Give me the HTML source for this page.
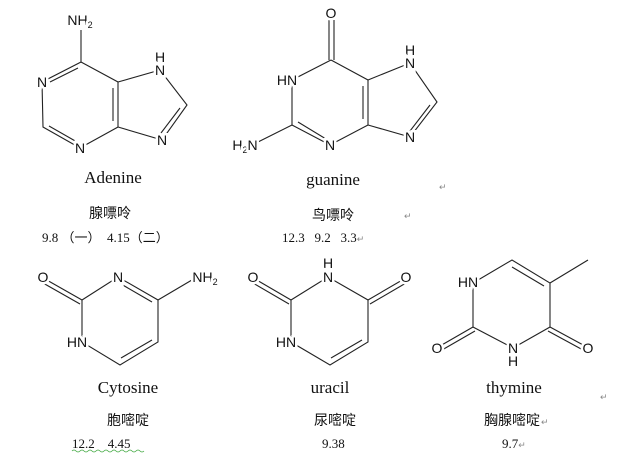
<!DOCTYPE html>
<html><head><meta charset="utf-8"><style>
html,body{margin:0;padding:0;background:#fff;}
svg{display:block;}
.b{stroke:#222;stroke-width:1.1;fill:none;}
.a{font-family:"Liberation Sans",sans-serif;font-size:14px;fill:#111;text-anchor:middle;stroke:#fff;stroke-width:5;paint-order:stroke;}
.s{font-size:9px;}
.n{font-family:"Liberation Serif",serif;font-size:17px;fill:#111;text-anchor:middle;}
.c{font-family:"Liberation Sans","Noto Sans CJK SC",sans-serif;font-size:14px;fill:#111;text-anchor:middle;}
.v{font-family:"Liberation Serif","Noto Sans CJK SC",serif;font-size:13px;fill:#111;white-space:pre;}
.r{font-family:"Liberation Sans",sans-serif;font-size:9px;fill:#888;}
</style></head><body>
<svg width="620" height="471" viewBox="0 0 620 471">
<!-- Adenine -->
<g class="b">
<path d="M81 30 L81 62 L42 82 L43 127 L80 148 L118 127 L118 82 L81 62"/>
<path d="M118 82 L160 70 L187 105 L162 140 L118 127"/>
<path d="M50 82 L78 68"/>
<path d="M49 126 L77 142"/>
<path d="M113 88 L113 121"/>
<path d="M180 108 L161 133"/>
</g>
<text class="a" x="80" y="25">NH<tspan class="s" dy="3">2</tspan></text>
<text class="a" x="42" y="87">N</text>
<text class="a" x="80" y="153">N</text>
<text class="a" x="160" y="62">H</text>
<text class="a" x="160" y="75">N</text>
<text class="a" x="162" y="145">N</text>
<text class="n" x="113" y="183">Adenine</text>
<text class="c" x="110" y="218">腺嘌呤</text>
<text class="v" x="42" y="242" xml:space="preserve">9.8 （一）  4.15（二）</text>

<!-- Guanine -->
<g class="b">
<path d="M329 20 L329 60 M334 20 L334 60"/>
<path d="M331 60 L292 80 L292 125 L330 145 L368 125 L368 80 L331 60"/>
<path d="M292 125 L252 145"/>
<path d="M368 80 L410 63 L437 102 L410 137 L368 125"/>
<path d="M298 122 L326 139"/>
<path d="M363 86 L363 119"/>
<path d="M430 105 L410 131"/>
</g>
<text class="a" x="331" y="18">O</text>
<text class="a" x="287" y="85">HN</text>
<text class="a" x="245" y="150">H<tspan class="s" dy="3">2</tspan><tspan dy="-3">N</tspan></text>
<text class="a" x="330" y="150">N</text>
<text class="a" x="410" y="55">H</text>
<text class="a" x="410" y="68">N</text>
<text class="a" x="410" y="142">N</text>
<text class="n" x="333" y="185">guanine</text>
<text class="r" x="439" y="190">↵</text>
<text class="c" x="333" y="220">鸟嘌呤</text>
<text class="r" x="404" y="219">↵</text>
<text class="v" x="282" y="242" xml:space="preserve">12.3   9.2   3.3<tspan class="r">↵</tspan></text>

<!-- Cytosine -->
<g class="b">
<path d="M82 300 L118 277 L158 300 L158 342 L120 365 L82 342 Z"/>
<path d="M82 300 L45 279 M80 304 L43 283"/>
<path d="M158 300 L197 277"/>
<path d="M121 284 L152 302"/>
<path d="M152 340 L121 358"/>
</g>
<text class="a" x="43" y="282">O</text>
<text class="a" x="118" y="282">N</text>
<text class="a" x="205" y="282">NH<tspan class="s" dy="3">2</tspan></text>
<text class="a" x="77" y="347">HN</text>
<text class="n" x="128" y="393">Cytosine</text>
<text class="c" x="128" y="425">胞嘧啶</text>
<text class="v" x="72" y="448" xml:space="preserve">12.2    4.45</text>
<path d="M72 451 q2 -2 4 0 t4 0 t4 0 t4 0 t4 0 t4 0 t4 0 t4 0 t4 0 t4 0 t4 0 t4 0 t4 0 t4 0 t4 0 t4 0 t4 0 t4 0" stroke="#4a4" fill="none" stroke-width="0.8"/>

<!-- Uracil -->
<g class="b">
<path d="M291 300 L328 277 L368 300 L368 342 L330 365 L291 342 Z"/>
<path d="M291 300 L255 279 M289 304 L253 283"/>
<path d="M368 300 L404 279 M370 304 L406 283"/>
<path d="M362 340 L331 358"/>
</g>
<text class="a" x="253" y="282">O</text>
<text class="a" x="328" y="268">H</text>
<text class="a" x="328" y="282">N</text>
<text class="a" x="406" y="282">O</text>
<text class="a" x="286" y="347">HN</text>
<text class="n" x="330" y="393">uracil</text>
<text class="c" x="335" y="425">尿嘧啶</text>
<text class="v" x="322" y="448">9.38</text>

<!-- Thymine -->
<g class="b">
<path d="M473 283 L512 260 L550 283 L550 327 L513 348 L473 327 Z"/>
<path d="M550 283 L588 260"/>
<path d="M544 286 L512 267"/>
<path d="M473 327 L440 346 M475 331 L442 350"/>
<path d="M550 327 L585 346 M548 331 L583 350"/>
</g>
<text class="a" x="468" y="287">HN</text>
<text class="a" x="437" y="353">O</text>
<text class="a" x="513" y="353">N</text>
<text class="a" x="513" y="366">H</text>
<text class="a" x="588" y="353">O</text>
<text class="n" x="514" y="393">thymine</text>
<text class="r" x="600" y="400">↵</text>
<text class="c" x="512" y="425">胸腺嘧啶</text>
<text class="r" x="541" y="425">↵</text>
<text class="v" x="502" y="448">9.7<tspan class="r">↵</tspan></text>
</svg>
</body></html>
